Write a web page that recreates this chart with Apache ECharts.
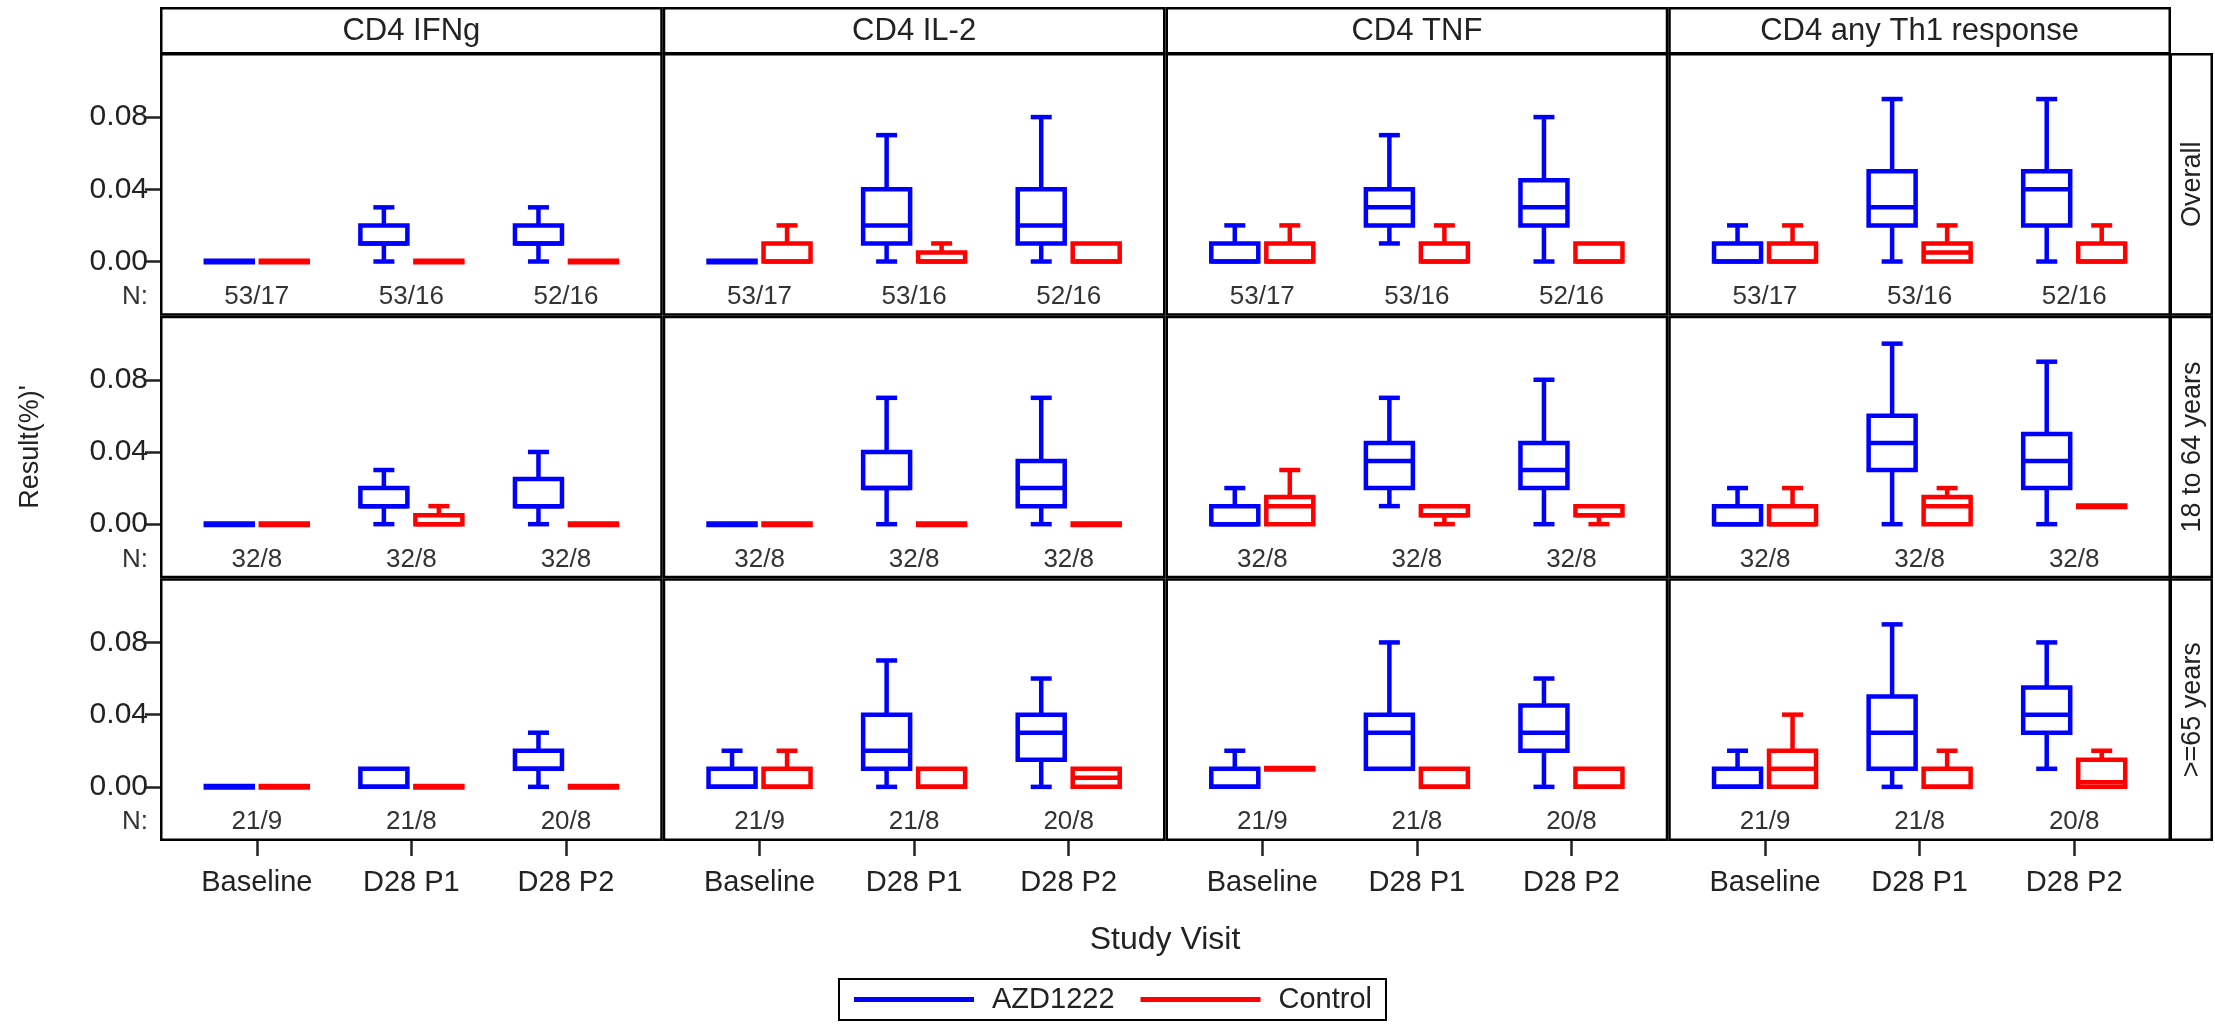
<!DOCTYPE html>
<html>
<head>
<meta charset="utf-8">
<script src="https://cdn.jsdelivr.net/npm/echarts@6/dist/echarts.min.js"></script>
<style>
  html, body { margin: 0; padding: 0; background: #fff; }
  #chart { width: 2215px; height: 1025px; }
</style>
</head>
<body>
<div id="chart"></div>
<script>
const visits = ['Baseline', 'D28 P1', 'D28 P2']
const markers = ['CD4 IFNg', 'CD4 IL-2', 'CD4 TNF', 'CD4 any Th1 response']
const ageGroups = ['Overall', '18 to 64 years', '>=65 years']
const yTicks = [0, 0.04, 0.08]
const nLabels = [
  ['53/17', '53/16', '52/16'],
  ['32/8', '32/8', '32/8'],
  ['21/9', '21/8', '20/8']
]

// each box: [min, q1, median, q3, max]; one list per marker, one box per visit
const azdOverall = [
  [[0, 0, 0, 0, 0], [0, 0.01, 0.01, 0.02, 0.03], [0, 0.01, 0.01, 0.02, 0.03]],
  [[0, 0, 0, 0, 0], [0, 0.01, 0.02, 0.04, 0.07], [0, 0.01, 0.02, 0.04, 0.08]],
  [[0, 0, 0, 0.01, 0.02], [0.01, 0.02, 0.03, 0.04, 0.07], [0, 0.02, 0.03, 0.045, 0.08]],
  [[0, 0, 0, 0.01, 0.02], [0, 0.02, 0.03, 0.05, 0.09], [0, 0.02, 0.04, 0.05, 0.09]]
]
const ctlOverall = [
  [[0, 0, 0, 0, 0], [0, 0, 0, 0, 0], [0, 0, 0, 0, 0]],
  [[0, 0, 0, 0.01, 0.02], [0, 0, 0, 0.005, 0.01], [0, 0, 0, 0.01, 0.01]],
  [[0, 0, 0, 0.01, 0.02], [0, 0, 0, 0.01, 0.02], [0, 0, 0, 0.01, 0.01]],
  [[0, 0, 0, 0.01, 0.02], [0, 0, 0.005, 0.01, 0.02], [0, 0, 0, 0.01, 0.02]]
]
const azd18to64 = [
  [[0, 0, 0, 0, 0], [0, 0.01, 0.01, 0.02, 0.03], [0, 0.01, 0.01, 0.025, 0.04]],
  [[0, 0, 0, 0, 0], [0, 0.02, 0.02, 0.04, 0.07], [0, 0.01, 0.02, 0.035, 0.07]],
  [[0, 0, 0, 0.01, 0.02], [0.01, 0.02, 0.035, 0.045, 0.07], [0, 0.02, 0.03, 0.045, 0.08]],
  [[0, 0, 0, 0.01, 0.02], [0, 0.03, 0.045, 0.06, 0.10], [0, 0.02, 0.035, 0.05, 0.09]]
]
const ctl18to64 = [
  [[0, 0, 0, 0, 0], [0, 0, 0, 0.005, 0.01], [0, 0, 0, 0, 0]],
  [[0, 0, 0, 0, 0], [0, 0, 0, 0, 0], [0, 0, 0, 0, 0]],
  [[0, 0, 0.01, 0.015, 0.03], [0, 0.005, 0.005, 0.01, 0.01], [0, 0.005, 0.005, 0.01, 0.01]],
  [[0, 0, 0, 0.01, 0.02], [0, 0, 0.01, 0.015, 0.02], [0.01, 0.01, 0.01, 0.01, 0.01]]
]
const azd65plus = [
  [[0, 0, 0, 0, 0], [0, 0, 0, 0.01, 0.01], [0, 0.01, 0.01, 0.02, 0.03]],
  [[0, 0, 0, 0.01, 0.02], [0, 0.01, 0.02, 0.04, 0.07], [0, 0.015, 0.03, 0.04, 0.06]],
  [[0, 0, 0, 0.01, 0.02], [0.01, 0.01, 0.03, 0.04, 0.08], [0, 0.02, 0.03, 0.045, 0.06]],
  [[0, 0, 0, 0.01, 0.02], [0, 0.01, 0.03, 0.05, 0.09], [0.01, 0.03, 0.04, 0.055, 0.08]]
]
const ctl65plus = [
  [[0, 0, 0, 0, 0], [0, 0, 0, 0, 0], [0, 0, 0, 0, 0]],
  [[0, 0, 0, 0.01, 0.02], [0, 0, 0, 0.01, 0.01], [0, 0, 0.005, 0.01, 0.01]],
  [[0.01, 0.01, 0.01, 0.01, 0.01], [0, 0, 0, 0.01, 0.01], [0, 0, 0, 0.01, 0.01]],
  [[0, 0, 0.01, 0.02, 0.04], [0, 0, 0, 0.01, 0.02], [0, 0, 0.0025, 0.015, 0.02]]
]

const azdRows = [azdOverall, azd18to64, azd65plus]
const ctlRows = [ctlOverall, ctl18to64, ctl65plus]

const BLUE = '#0000ff'
const RED = '#ff0000'
const FONT = '"Liberation Sans", Arial, sans-serif'
const COL_L = 160
const COL_W = 502.75
const ROW_T = 53
const ROW_H = 262.67
const PAD_X = 19.5
const Y_MIN = -0.03
const Y_MAX = 0.1155
const N_Y = -0.0195
const LINE_W = 4.5
const HALF_BOX = 23.5
const HALF_CAP = 10.5

function boxRenderer(dx, color) {
  return function(params, api) {
    const cat = api.value(0)
    const v = [1, 2, 3, 4, 5].map(i => api.value(i))
    const cx = api.coord([cat, 0])[0] + dx
    const py = v.map(val => api.coord([cat, val])[1])
    const style = { stroke: color, lineWidth: LINE_W, fill: null }
    const hline = (y, hw, w) => ({
      type: 'line',
      shape: { x1: cx - hw, y1: y, x2: cx + hw, y2: y },
      style: { stroke: color, lineWidth: w || LINE_W }
    })
    const children = []
    if (v[3] > v[1]) {
      children.push({
        type: 'rect',
        shape: { x: cx - HALF_BOX, y: py[3], width: HALF_BOX * 2, height: py[1] - py[3] },
        style: style
      })
      children.push(hline(py[2], HALF_BOX))
    } else {
      children.push(hline(py[2], HALF_BOX + LINE_W / 2, 6))
    }
    if (v[4] > v[3]) {
      children.push({ type: 'line', shape: { x1: cx, y1: py[3], x2: cx, y2: py[4] }, style: style })
      children.push(hline(py[4], HALF_CAP))
    }
    if (v[0] < v[1]) {
      children.push({ type: 'line', shape: { x1: cx, y1: py[1], x2: cx, y2: py[0] }, style: style })
      children.push(hline(py[0], HALF_CAP))
    }
    return { type: 'group', children: children }
  }
}

function nRenderer(labels) {
  return function(params, api) {
    const p = api.coord([api.value(0), api.value(1)])
    return {
      type: 'text',
      x: p[0],
      y: p[1],
      style: {
        text: labels[params.dataIndex],
        fill: '#333',
        font: '26px ' + FONT,
        align: 'center',
        verticalAlign: 'middle'
      }
    }
  }
}

const grids = []
const xAxes = []
const yAxes = []
const series = []
const graphics = []

function frame(x, y, w, h, lw) {
  graphics.push({
    type: 'rect',
    shape: { x: x + lw / 2, y: y + lw / 2, width: w - lw, height: h - lw },
    style: { fill: null, stroke: '#000', lineWidth: lw },
    silent: true
  })
}

for (let r = 0; r < 3; r++) {
  for (let c = 0; c < 4; c++) {
    const g = grids.length
    grids.push({
      left: COL_L + c * COL_W + PAD_X,
      top: ROW_T + r * ROW_H,
      width: COL_W - 2 * PAD_X,
      height: ROW_H
    })
    xAxes.push({
      type: 'category',
      gridIndex: g,
      position: 'bottom',
      data: visits,
      boundaryGap: true,
      axisLine: { show: false, onZero: false },
      axisTick: {
        show: r === 2,
        inside: false,
        interval: 0,
        alignWithLabel: true,
        length: 15,
        lineStyle: { color: '#222', width: 2.5 }
      },
      axisLabel: { show: r === 2, interval: 0, fontSize: 29, fontFamily: FONT, color: '#222', margin: 27 },
      splitLine: { show: false }
    })
    yAxes.push({
      type: 'value',
      gridIndex: g,
      position: 'left',
      min: Y_MIN,
      max: Y_MAX,
      offset: PAD_X,
      axisLine: { show: false, onZero: false },
      splitLine: { show: false },
      axisTick: {
        show: c === 0,
        inside: false,
        customValues: yTicks,
        length: 15,
        lineStyle: { color: '#222', width: 2.5 }
      },
      axisLabel: {
        show: c === 0,
        customValues: [N_Y].concat(yTicks),
        margin: 12,
        fontSize: 30,
        fontFamily: FONT,
        color: '#222',
        formatter: function(val) {
          return val < 0 ? '{n|N:}' : val.toFixed(2)
        },
        rich: { n: { fontSize: 26, fontFamily: FONT, color: '#333' } }
      }
    })
    const azd = azdRows[r][c].map((b, i) => [i].concat(b))
    const ctl = ctlRows[r][c].map((b, i) => [i].concat(b))
    series.push({
      type: 'custom',
      name: 'AZD1222',
      xAxisIndex: g,
      yAxisIndex: g,
      itemStyle: { color: BLUE },
      encode: { x: 0, y: [1, 2, 3, 4, 5] },
      renderItem: boxRenderer(-27.5, BLUE),
      data: azd
    })
    series.push({
      type: 'custom',
      name: 'Control',
      xAxisIndex: g,
      yAxisIndex: g,
      itemStyle: { color: RED },
      encode: { x: 0, y: [1, 2, 3, 4, 5] },
      renderItem: boxRenderer(27.5, RED),
      data: ctl
    })
    series.push({
      type: 'custom',
      name: 'N',
      xAxisIndex: g,
      yAxisIndex: g,
      silent: true,
      encode: { x: 0, y: 1 },
      renderItem: nRenderer(nLabels[r]),
      data: visits.map((v, i) => [i, N_Y])
    })
    frame(COL_L + c * COL_W, ROW_T + r * ROW_H, COL_W, ROW_H, 2.5)
  }
}

// column headers
markers.forEach((m, c) => {
  frame(COL_L + c * COL_W, 7, COL_W, ROW_T - 7 + 1.5, 2.5)
  graphics.push({
    type: 'text',
    x: COL_L + c * COL_W + COL_W / 2,
    y: 31,
    style: { text: m, fill: '#222', font: '31px ' + FONT, align: 'center', verticalAlign: 'middle' },
    silent: true
  })
})

// row strips, text reads bottom to top
ageGroups.forEach((a, r) => {
  const x0 = COL_L + 4 * COL_W - 1.5
  frame(x0, ROW_T + r * ROW_H, 2213 - x0, ROW_H, 2.5)
  graphics.push({
    type: 'text',
    x: (x0 + 2213) / 2 + 1,
    y: ROW_T + r * ROW_H + ROW_H / 2,
    rotation: Math.PI / 2,
    style: { text: a, fill: '#222', font: '27px ' + FONT, align: 'center', verticalAlign: 'middle' },
    silent: true
  })
})

graphics.push({
  type: 'text',
  x: 31,
  y: 447,
  rotation: Math.PI / 2,
  style: { text: "Result(%)'", fill: '#222', font: '27px ' + FONT, align: 'center', verticalAlign: 'middle' },
  silent: true
})
graphics.push({
  type: 'text',
  x: 1165,
  y: 940,
  style: { text: 'Study Visit', fill: '#222', font: '32px ' + FONT, align: 'center', verticalAlign: 'middle' },
  silent: true
})

const option = {
  animation: false,
  grid: grids,
  xAxis: xAxes,
  yAxis: yAxes,
  legend: {
    left: 839,
    top: 979,
    data: [{ name: 'AZD1222', icon: 'rect' }, { name: 'Control', icon: 'rect' }],
    itemWidth: 120,
    itemHeight: 5,
    itemGap: 26,
    padding: [6, 14, 6, 15],
    borderColor: '#000',
    borderWidth: 2,
    itemStyle: { borderWidth: 0 },
    textStyle: { fontSize: 29, fontFamily: FONT, color: '#222', padding: [0, 0, 0, 13] }
  },
  graphic: { elements: graphics },
  series: series
}

const myChart = echarts.init(document.getElementById('chart'))
myChart.setOption(option)
</script>
</body>
</html>
